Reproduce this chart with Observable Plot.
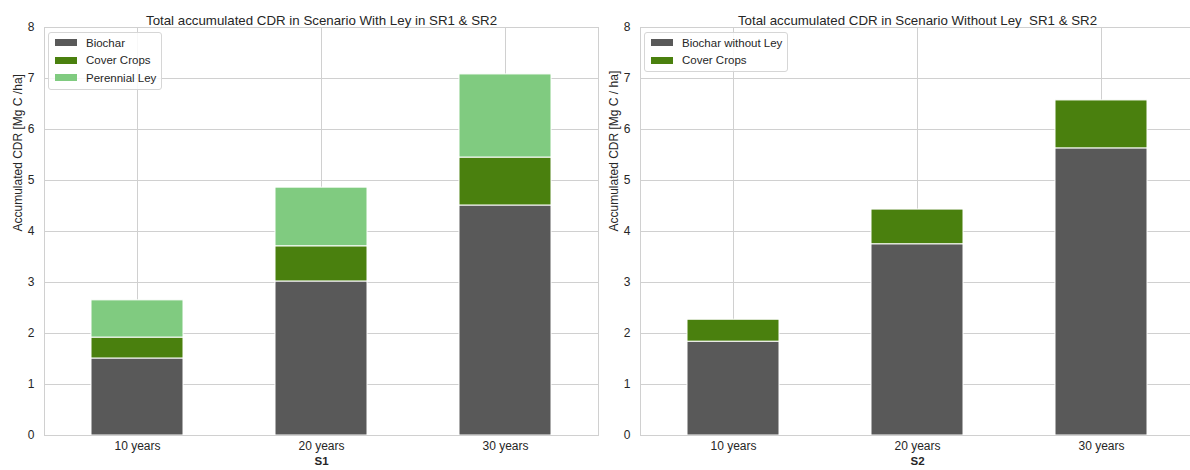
<!DOCTYPE html>
<html>
<head>
<meta charset="utf-8">
<script src="https://cdn.jsdelivr.net/npm/d3@7"></script>
<script src="https://cdn.jsdelivr.net/npm/@observablehq/plot@0.6"></script>
<style>
  html, body { margin: 0; padding: 0; background: white; }
  #wrap { position: relative; width: 1190px; height: 470px; overflow: hidden; background: white;
          font-family: "Liberation Sans", Arial, sans-serif; color: #262626; }
  .panel { position: absolute; top: 0; }
  .panel svg { max-width: none !important; display: block; }
  .panel svg text { white-space: pre; }
  .legend { position: absolute; background: rgba(255,255,255,0.85); border: 1px solid #d6d6d6;
            border-radius: 3px; padding: 1px 5px 2px 5px; font-size: 11.5px; box-sizing: border-box; }
  .legend .row { display: flex; align-items: center; height: 17.5px; }
  .legend .sw { width: 22px; height: 7px; margin-left: 1px; margin-right: 9px; }
</style>
</head>
<body>
<div id="wrap"></div>
<script>
const categories = ["10 years", "20 years", "30 years"];
const yTicks = [0, 1, 2, 3, 4, 5, 6, 7, 8];

// Panel 1: With Ley
const withLeySeries = ["Biochar", "Cover Crops", "Perennial Ley"];
const withLeyBiochar = [1.51, 3.02, 4.51];
const withLeyCoverCrops = [0.41, 0.69, 0.94];
const withLeyPerennialLey = [0.73, 1.15, 1.63];
const withLeyColors = ["#595959", "#4a800e", "#80cb80"];

// Panel 2: Without Ley
const withoutLeySeries = ["Biochar without Ley", "Cover Crops"];
const withoutLeyBiochar = [1.84, 3.75, 5.63];
const withoutLeyCoverCrops = [0.43, 0.68, 0.94];
const withoutLeyColors = ["#595959", "#4a800e"];

const titles = ["Total accumulated CDR in Scenario With Ley in SR1 & SR2",
                "Total accumulated CDR in Scenario Without Ley  SR1 & SR2"];
const yLabels = ["Accumulated CDR [Mg C /ha]", "Accumulated CDR [Mg C / ha]"];
const xLabels = ["S1", "S2"];

function makePanel({series, values, colors, title, ylabel, xlabel, width, marginLeft, marginRight}) {
  const data = [];
  series.forEach((s, i) => categories.forEach((c, j) => data.push({cat: c, series: s, value: values[i][j]})));
  return Plot.plot({
    width, height: 470,
    marginTop: 27, marginBottom: 35, marginLeft, marginRight,
    style: {fontFamily: "'Liberation Sans', Arial, sans-serif", fontSize: "12px", color: "#262626", background: "white", overflow: "visible"},
    x: {domain: categories, paddingInner: 0.5, paddingOuter: 0.25, label: null},
    y: {domain: [0, 8], label: null},
    color: {domain: series, range: colors},
    marks: [
      Plot.gridY(yTicks, {stroke: "#d0d0d0", strokeOpacity: 1}),
      Plot.gridX({stroke: "#d0d0d0", strokeOpacity: 1}),
      Plot.barY(data, {x: "cat", y: "value", fill: "series", stroke: "white", strokeWidth: 1, order: series}),
      Plot.frame({stroke: "#d0d0d0"}),
      Plot.axisX({tickSize: 0, tickPadding: 6, label: null, fontSize: 12}),
      Plot.axisY(yTicks, {tickSize: 0, tickPadding: 10, label: null, fontSize: 12, tickFormat: d => String(d)}),
      Plot.text([title], {text: d => d, frameAnchor: "top", dy: -12, fontSize: 13.3}),
      Plot.text([ylabel], {text: d => d, frameAnchor: "left", dx: -26, rotate: -90, fontSize: 12}),
      Plot.text([xlabel], {text: d => d, frameAnchor: "bottom", dy: 29, fontSize: 11.5, fontWeight: "bold"})
    ]
  });
}

function makeLegend(series, colors, left, top) {
  const div = document.createElement("div");
  div.className = "legend";
  div.style.left = left + "px";
  div.style.top = top + "px";
  series.forEach((s, i) => {
    const row = document.createElement("div");
    row.className = "row";
    const sw = document.createElement("span");
    sw.className = "sw";
    sw.style.background = colors[i];
    const lab = document.createElement("span");
    lab.textContent = s;
    row.appendChild(sw); row.appendChild(lab);
    div.appendChild(row);
  });
  return div;
}

const wrap = document.getElementById("wrap");

const p1 = document.createElement("div");
p1.className = "panel"; p1.style.left = "0px"; p1.style.width = "600px";
p1.appendChild(makePanel({
  series: withLeySeries,
  values: [withLeyBiochar, withLeyCoverCrops, withLeyPerennialLey],
  colors: withLeyColors, title: titles[0], ylabel: yLabels[0], xlabel: xLabels[0],
  width: 600, marginLeft: 44, marginRight: 2
}));
wrap.appendChild(p1);

const p2 = document.createElement("div");
p2.className = "panel"; p2.style.left = "600px"; p2.style.width = "594px";
p2.appendChild(makePanel({
  series: withoutLeySeries,
  values: [withoutLeyBiochar, withoutLeyCoverCrops],
  colors: withoutLeyColors, title: titles[1], ylabel: yLabels[1], xlabel: xLabels[1],
  width: 594, marginLeft: 40, marginRight: 0
}));
wrap.appendChild(p2);

wrap.appendChild(makeLegend(withLeySeries, withLeyColors, 48, 32));
wrap.appendChild(makeLegend(withoutLeySeries, withoutLeyColors, 644, 32));
</script>
</body>
</html>
